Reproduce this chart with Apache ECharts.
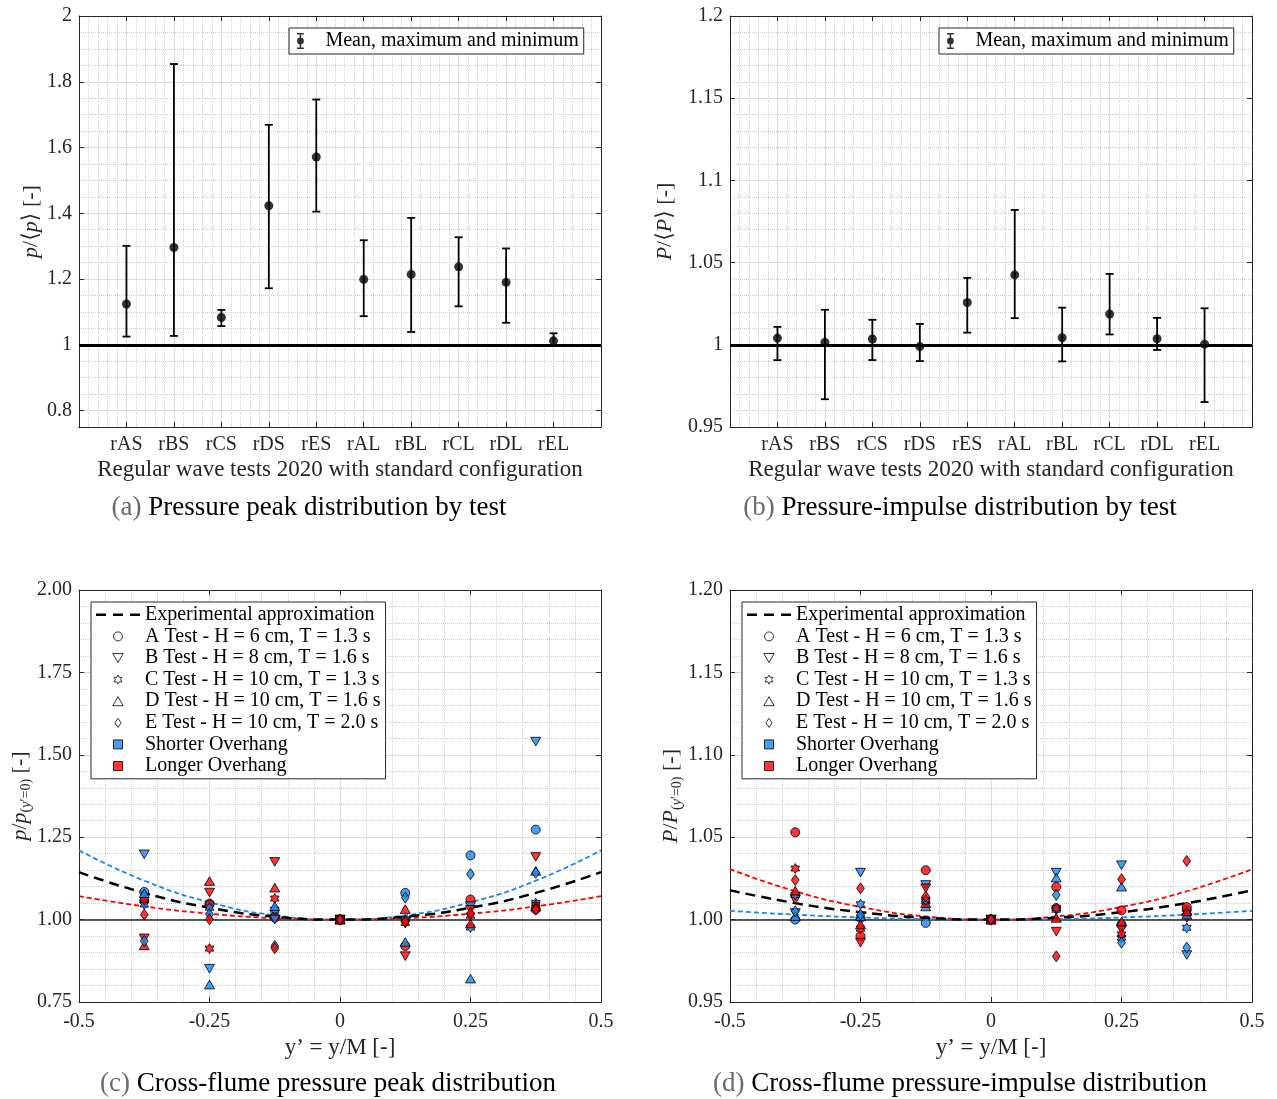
<!DOCTYPE html>
<html><head><meta charset="utf-8">
<script src="https://cdn.jsdelivr.net/npm/echarts@6/dist/echarts.min.js"></script>
<style>html,body{margin:0;padding:0;background:#fff}#c{width:1277px;height:1099px}</style>
</head><body><div id="c"></div><script>
// ---------- data ----------
const categories = ['rAS','rBS','rCS','rDS','rES','rAL','rBL','rCL','rDL','rEL'];
const peakMean = [1.124,1.296,1.083,1.423,1.571,1.199,1.214,1.237,1.190,1.012];
const peakMax  = [1.301,1.854,1.106,1.669,1.746,1.318,1.386,1.327,1.293,1.035];
const peakMin  = [1.025,1.027,1.057,1.172,1.405,1.087,1.039,1.117,1.067,0.998];
const impMean = [1.0041,1.0016,1.0035,0.9989,1.0257,1.0425,1.0043,1.0187,1.0037,1.0004];
const impMax  = [1.0109,1.0213,1.0152,1.0127,1.0407,1.0820,1.0226,1.0431,1.0164,1.0222];
const impMin  = [0.9907,0.9669,0.9907,0.9901,1.0074,1.0162,0.9899,1.0063,0.9969,0.9652];
const peakYTicks = [0.8,1,1.2,1.4,1.6,1.8,2];
const refLevel = 1;

const yPos = [-0.375,-0.25,-0.125,0,0.125,0.25,0.375];
const peakA_short = [1.084,1.049,1.010,1,1.081,1.195,1.273];
const peakA_long  = [1.057,1.045,1.006,1,0.920,1.061,1.031];
const peakB_short = [1.198,0.851,1.000,1,0.995,1.041,1.540];
const peakB_long  = [0.943,1.082,1.175,1,0.889,1.030,1.190];
const peakC_short = [1.046,1.036,1.030,1,1.000,0.976,1.050];
const peakC_long  = [1.060,0.912,1.064,1,0.990,1.012,1.044];
const peakD_short = [1.080,0.803,1.041,1,0.932,0.821,1.148];
const peakD_long  = [0.922,1.117,1.097,1,1.032,0.988,1.040];
const peakE_short = [0.935,1.016,0.920,1,1.067,1.138,1.142];
const peakE_long  = [1.015,1.001,0.913,1,0.994,1.019,1.030];

const impA_short = [1.000,1.001,0.998,1,1.007,0.997,1.006];
const impA_long  = [1.053,0.990,1.030,1,1.0198,1.0056,1.0076];
const impB_short = [1.004,1.0285,1.021,1,1.0285,1.033,0.9785];
const impB_long  = [1.012,0.986,1.019,1,0.9927,0.994,1.001];
const impC_short = [1.015,1.0093,1.011,1,1.006,0.989,0.995];
const impC_long  = [1.031,0.9945,1.012,1,1.007,0.991,1.004];
const impD_short = [1.002,1.002,1.008,1,1.0255,1.020,1.003];
const impD_long  = [1.0176,0.997,1.010,1,1.001,0.9988,1.005];
const impE_short = [1.005,1.003,1.012,1,1.015,0.986,0.983];
const impE_long  = [1.024,1.019,1.014,1,0.9777,1.0245,1.0356];

const curveX = [-0.5,-0.375,-0.25,-0.125,0,0.125,0.25,0.375,0.5];
const peakFitExp   = [1.144,1.081,1.036,1.009,1,1.009,1.036,1.081,1.144];
const peakFitShort = [1.210,1.118,1.0525,1.013,1,1.013,1.0525,1.118,1.210];
const peakFitLong  = [1.071,1.040,1.018,1.0044,1,1.0044,1.018,1.040,1.071];
const impFitExp    = [1.0178,1.010,1.0045,1.0011,1,1.0011,1.0045,1.010,1.0178];
const impFitShort  = [1.0053,1.003,1.0013,1.0003,1,1.0003,1.0013,1.003,1.0053];
const impFitLong   = [1.0306,1.0172,1.0077,1.0019,1,1.0019,1.0077,1.0172,1.0306];

const testNames = ['A Test - H = 6 cm, T = 1.3 s','B Test - H = 8 cm, T = 1.6 s','C Test - H = 10 cm, T = 1.3 s','D Test - H = 10 cm, T = 1.6 s','E Test - H = 10 cm, T = 2.0 s'];
const overhangNames = ['Shorter Overhang','Longer Overhang'];

// ---------- style ----------
const FONT = '"Liberation Serif","DejaVu Serif",serif';
const AX = '#262626', MAJ = '#dcdcdc', MIN = '#cfcfcf', TR = 'rgba(0,0,0,0)';
const BLUE = '#1a86f0', RED = '#ff0000';
const SYM = {
  circle: 'circle',
  triDown: 'path://M0,0L10,0L5,8.66Z',
  hexagram: 'path://M10,0L12.887,5L18.66,5L15.77,10L18.66,15L12.887,15L10,20L7.113,15L1.34,15L4.23,10L1.34,5L7.113,5Z',
  triUp: 'path://M5,0L10,8.66L0,8.66Z',
  diamond: 'path://M3.5,0L7,5L3.5,10L0,5Z',
  square: 'path://M0,0L10,0L10,10L0,10Z'
};
const testSym = [SYM.circle, SYM.triDown, SYM.hexagram, SYM.triUp, SYM.diamond];
const testSize = [9, 10, 10, 10, 11];
const ERR_ICON = 'path://M3,0H9V1.3H3Z M5.35,0H6.65V14H5.35Z M3,12.7H9V14H3Z M9,7A3,3 0 1,1 3,7A3,3 0 1,1 9,7Z';
const DASH_ICON = 'path://M0,0H10V2.6H0Z M17,0H27V2.6H17Z M34,0H44V2.6H34Z';

const grids = [
  {left:79, top:16, width:522, height:411},
  {left:730, top:16, width:522, height:411},
  {left:79, top:590, width:522, height:412},
  {left:730, top:590, width:522, height:412}
];

function xAx(g, min, max, interval, opts) {
  const bottom = opts.bottom;
  return {
    type:'value', gridIndex:g, position: bottom ? 'bottom':'top', min, max, interval,
    axisLine:{show:true, onZero:false, lineStyle:{color:AX, width:1}},
    axisTick:{show:true, inside:true, length:5, lineStyle:{color:AX}},
    axisLabel:{show: bottom, formatter: opts.fmt, margin: opts.margin||8, color:AX, fontFamily:FONT, fontSize:20},
    splitLine:{show: bottom, lineStyle:{color:MAJ, width:1}},
    minorTick:{show:false, splitNumber:5},
    minorSplitLine:{show: bottom, lineStyle:{color:MIN, width:1, type:'dotted'}},
    name: bottom ? opts.name : '', nameLocation:'middle', nameGap: opts.gap||32,
    nameTextStyle:{fontFamily:FONT, fontSize:23, color:AX}
  };
}
const nameRich = {
  i:{fontFamily:FONT, fontSize:22, fontStyle:'italic', color:AX, lineHeight:24, verticalAlign:'top'},
  n:{fontFamily:FONT, fontSize:22, color:AX, lineHeight:24, verticalAlign:'top'},
  s:{fontFamily:FONT, fontSize:14, color:AX, lineHeight:15, padding:[13,0,0,0], verticalAlign:'bottom'},
  si:{fontFamily:FONT, fontSize:14, fontStyle:'italic', color:AX, lineHeight:15, padding:[13,0,0,0], verticalAlign:'bottom'}
};
function yAx(g, min, max, interval, opts) {
  const left = opts.left;
  return {
    type:'value', gridIndex:g, position: left ? 'left':'right', min, max, interval,
    axisLine:{show:true, onZero:false, lineStyle:{color:AX, width:1}},
    axisTick:{show:true, inside:true, length:5, lineStyle:{color:AX}, customValues: opts.ticks},
    axisLabel:{show: left, formatter: opts.fmt, margin:7, color:AX, fontFamily:FONT, fontSize:20},
    splitLine:{show: !!opts.split, lineStyle:{color:MAJ, width:1}},
    minorTick:{show:false, splitNumber:5},
    minorSplitLine:{show: !!opts.split, lineStyle:{color:MIN, width:1, type:'dotted'}},
    name: left ? opts.name : '', nameLocation:'middle', nameGap: opts.gap||40, nameRotate:90,
    nameTextStyle:{fontFamily:FONT, fontSize:22, color:AX, rich: nameRich}
  };
}
function hiddenY(g, min, max, interval, colors, type) {
  return {type:'value', gridIndex:g, position:'left', min, max, interval,
    axisLine:{show:false, onZero:false}, axisTick:{show:false}, axisLabel:{show:false},
    splitLine:{show:true, lineStyle:{color:colors, width:1, type:type}}};
}
const fmtA = v => { const r = Math.round(v*100)/100; const k = Math.round(r/0.2); return Math.abs(r-k*0.2) < 1e-6 ? String(+r.toFixed(1)) : ''; };
const fmt2 = v => v.toFixed(2);
const fmtCat = v => categories[v-1] || '';
const xNameTop = 'Regular wave tests 2020 with standard configuration';

const xAxes = [
  xAx(0,0,11,1,{bottom:true, fmt: fmtCat, name: xNameTop, gap:31, margin:8}),
  xAx(0,0,11,1,{bottom:false}),
  xAx(1,0,11,1,{bottom:true, fmt: fmtCat, name: xNameTop, gap:31, margin:8}),
  xAx(1,0,11,1,{bottom:false}),
  xAx(2,-0.5,0.5,0.25,{bottom:true, name:'y’ = y/M [-]', gap:34, margin:10}),
  xAx(2,-0.5,0.5,0.25,{bottom:false}),
  xAx(3,-0.5,0.5,0.25,{bottom:true, name:'y’ = y/M [-]', gap:34, margin:10}),
  xAx(3,-0.5,0.5,0.25,{bottom:false})
];
const yAxes = [
  yAx(0,0.75,2,0.05,{left:true, fmt:fmtA, ticks:peakYTicks, name:'{i|p}{n|/⟨}{i|p}{n|⟩ [-]}', gap:35}),
  yAx(0,0.75,2,0.05,{left:false, ticks:peakYTicks}),
  hiddenY(0,0.75,2,0.05,[TR,MAJ,TR,TR],'solid'),
  hiddenY(0,0.75,2,0.05,[MIN,TR,MIN,MIN],'dotted'),
  yAx(1,0.95,1.2,0.05,{left:true, split:true, name:'{i|P}{n|/⟨}{i|P}{n|⟩ [-]}', gap:52}),
  yAx(1,0.95,1.2,0.05,{left:false}),
  yAx(2,0.75,2,0.25,{left:true, split:true, fmt:fmt2, name:'{i|p}{n|/}{i|p}{s|(}{si|y}{s|′=0)}{n| [-]}', gap:43}),
  yAx(2,0.75,2,0.25,{left:false}),
  yAx(3,0.95,1.2,0.05,{left:true, split:true, fmt:fmt2, name:'{i|P}{n|/}{i|P}{s|(}{si|y}{s|′=0)}{n| [-]}', gap:44}),
  yAx(3,0.95,1.2,0.05,{left:false})
];

// ---------- series ----------
const series = [];
function errorPanel(xi, yi, mean, mn, mx) {
  series.push({
    name:'Mean, maximum and minimum', type:'scatter', xAxisIndex:xi, yAxisIndex:yi,
    data: categories.map((c,i)=>[i+1, mean[i]]), symbol:'circle', symbolSize:9,
    itemStyle:{color:'#000'}, z:5, silent:true,
    markLine:{silent:true, symbol:'none', label:{show:false}, lineStyle:{color:'#000', width:3, type:'solid'}, data:[{yAxis:refLevel}], z:3}
  });
  series.push({
    name:'errbar', type:'custom', xAxisIndex:xi, yAxisIndex:yi, z:4, silent:true,
    data: categories.map((c,i)=>[i+1, mn[i], mx[i]]),
    renderItem(params, api) {
      const x = api.value(0);
      const lo = api.coord([x, api.value(1)]);
      const hi = api.coord([x, api.value(2)]);
      const hw = 4, st = {stroke:'#000', lineWidth:1.8};
      return {type:'group', children:[
        {type:'line', shape:{x1:lo[0], y1:lo[1], x2:hi[0], y2:hi[1]}, style:st},
        {type:'line', shape:{x1:hi[0]-hw, y1:hi[1], x2:hi[0]+hw, y2:hi[1]}, style:st},
        {type:'line', shape:{x1:lo[0]-hw, y1:lo[1], x2:lo[0]+hw, y2:lo[1]}, style:st}
      ]};
    }
  });
}
errorPanel(0, 0, peakMean, peakMin, peakMax);
errorPanel(2, 4, impMean, impMin, impMax);

function crossPanel(xi, yi, fitExp, fitShort, fitLong, shortSets, longSets) {
  series.push({name:'fit short', type:'line', xAxisIndex:xi, yAxisIndex:yi, smooth:true, showSymbol:false, symbol:'none', silent:true,
    data: curveX.map((x,i)=>[x, fitShort[i]]), lineStyle:{color:BLUE, width:1.8, type:[5,3]}, z:2,
    markLine:{silent:true, symbol:'none', label:{show:false}, lineStyle:{color:AX, width:1.6, type:'solid'}, data:[{yAxis:refLevel}], z:1}});
  series.push({name:'fit long', type:'line', xAxisIndex:xi, yAxisIndex:yi, smooth:true, showSymbol:false, symbol:'none', silent:true,
    data: curveX.map((x,i)=>[x, fitLong[i]]), lineStyle:{color:RED, width:1.8, type:[5,3]}, z:2});
  series.push({name:'Experimental approximation', type:'line', xAxisIndex:xi, yAxisIndex:yi, smooth:true, showSymbol:false, symbol:'none', silent:true,
    data: curveX.map((x,i)=>[x, fitExp[i]]), lineStyle:{color:'#000', width:2.5, type:[10,6]}, itemStyle:{color:'#000'}, z:2});
  for (let t = 0; t < 5; t++) {
    [[shortSets[t], BLUE, 'short'], [longSets[t], RED, 'long']].forEach(([vals, col, tag]) => {
      series.push({name: 'pts '+t+' '+tag, type:'scatter', xAxisIndex:xi, yAxisIndex:yi, silent:true,
        data: yPos.map((x,i)=>[x, vals[i]]), symbol: testSym[t], symbolSize: testSize[t], symbolKeepAspect:true,
        itemStyle:{color:col, borderColor:'#000', borderWidth:1}, z:6});
    });
  }
}
crossPanel(4, 6, peakFitExp, peakFitShort, peakFitLong,
  [peakA_short,peakB_short,peakC_short,peakD_short,peakE_short],
  [peakA_long,peakB_long,peakC_long,peakD_long,peakE_long]);
crossPanel(6, 8, impFitExp, impFitShort, impFitLong,
  [impA_short,impB_short,impC_short,impD_short,impE_short],
  [impA_long,impB_long,impC_long,impD_long,impE_long]);

// legend-only entries
testNames.forEach((n,t) => series.push({name:n, type:'scatter', xAxisIndex:4, yAxisIndex:6, data:[], symbol:testSym[t], symbolKeepAspect:true,
  itemStyle:{color:'#fff', borderColor:'#000', borderWidth:1}}));
series.push({name:overhangNames[0], type:'scatter', xAxisIndex:4, yAxisIndex:6, data:[], symbol:SYM.square, itemStyle:{color:BLUE, borderColor:'#000', borderWidth:1}});
series.push({name:overhangNames[1], type:'scatter', xAxisIndex:4, yAxisIndex:6, data:[], symbol:SYM.square, itemStyle:{color:RED, borderColor:'#000', borderWidth:1}});

const crossLegendData = [{name:'Experimental approximation', icon: DASH_ICON, itemStyle:{borderWidth:0, color:'#000'}}].concat(testNames, overhangNames);
function errLegend(left) {
  return {left, top:28, orient:'horizontal', selectedMode:false, padding:[3,5,3,8], itemWidth:40, itemHeight:16,
    backgroundColor:'#fff', borderColor:AX, borderWidth:1,
    textStyle:{fontFamily:FONT, fontSize:20, color:'#000', lineHeight:18},
    itemStyle:{borderWidth:0},
    data:[{name:'Mean, maximum and minimum', icon:ERR_ICON}]};
}
function crossLegend(left) {
  return {left, top:602, orient:'vertical', selectedMode:false, padding:[2,5,2,5], itemGap:0, itemWidth:44, itemHeight:9,
    backgroundColor:'#fff', borderColor:AX, borderWidth:1,
    textStyle:{fontFamily:FONT, fontSize:20, color:'#000', lineHeight:21.6},
    itemStyle:{borderWidth:1, borderColor:'#000'},
    data: crossLegendData};
}

function caption(x, y, tag, text) {
  return {type:'text', x, y, silent:true, style:{text:'{g|'+tag+'} '+text, font:'27px '+FONT, fill:'#000', align:'center', verticalAlign:'middle',
    rich:{g:{fill:'#6a6a6a', fontSize:27, fontFamily:FONT}}}};
}

const option = {
  animation:false,
  backgroundColor:'#fff',
  grid: grids,
  xAxis: xAxes,
  yAxis: yAxes,
  legend: [errLegend(289), errLegend(939), crossLegend(91), crossLegend(742)],
  series,
  graphic: [
    caption(309, 508, '(a)', 'Pressure peak distribution by test'),
    caption(960, 508, '(b)', 'Pressure-impulse distribution by test'),
    caption(328, 1084, '(c)', 'Cross-flume pressure peak distribution'),
    caption(960, 1084, '(d)', 'Cross-flume pressure-impulse distribution')
  ]
};
const chart = echarts.init(document.getElementById('c'), null, {renderer:'canvas'});
chart.setOption(option);
</script></body></html>
